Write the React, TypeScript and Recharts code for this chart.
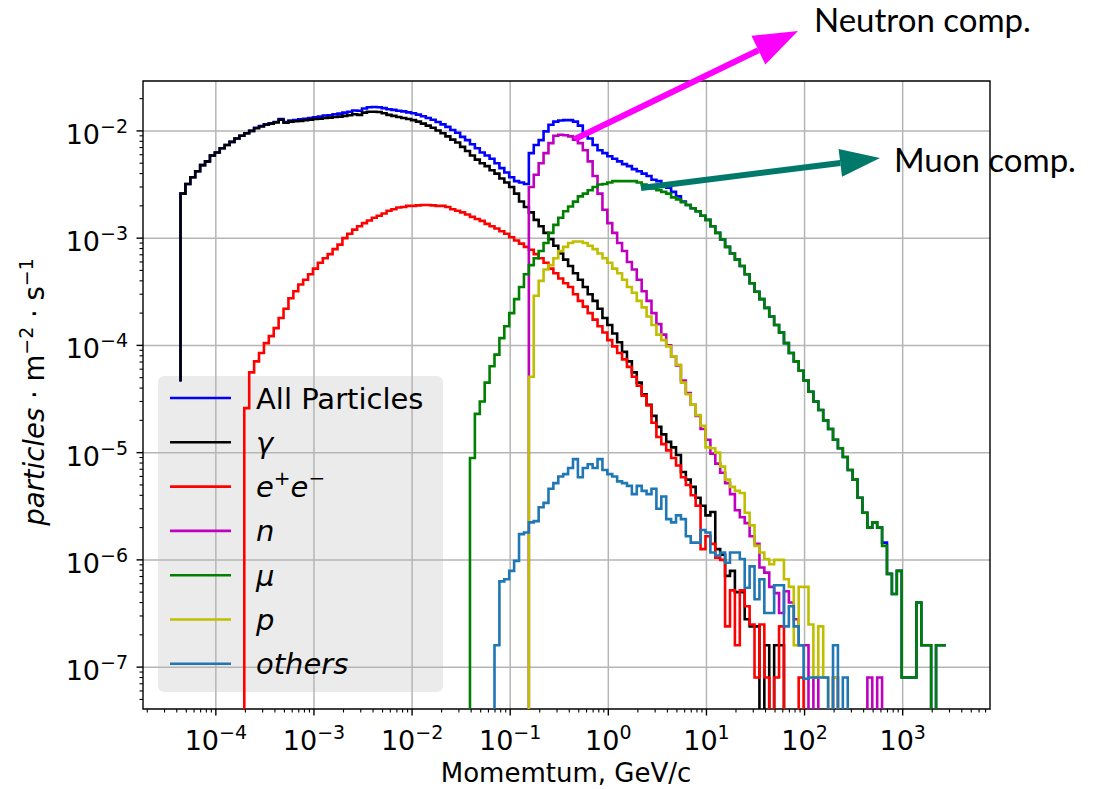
import React from "react";
import { CartesianGrid, Line, LineChart, ReferenceArea, XAxis, YAxis } from "recharts";

const W = 1100;
const H = 789;
const FONT = "DejaVu Sans";

// histogram bin edges are evenly spaced in log10(p)
const EDGE_LOG0 = -4.36;
const EDGE_LOG_STEP = 0.05;
const FLOOR = 1e-12; // empty bins drop out of the log axis

const X_DOMAIN: [number, number] = [1.81e-5, 7.76e3];
const Y_DOMAIN: [number, number] = [4.07e-8, 2.92e-2];
const X_EXPONENTS = [-4, -3, -2, -1, 0, 1, 2, 3];
const Y_EXPONENTS = [-7, -6, -5, -4, -3, -2];
const X_MINOR_EXPONENTS = [-5, -4, -3, -2, -1, 0, 1, 2, 3];
const Y_MINOR_EXPONENTS = [-8, -7, -6, -5, -4, -3, -2];
const MINOR_MANTISSAS = [2, 3, 4, 5, 6, 7, 8, 9];

// each list: value on its first edge, then one value per bin
const ALL_START = 0;
const ALL = [
  4.6e-5,
  2.6e-3, 3.2e-3, 3.7e-3, 4.2e-3, 4.8e-3, 5.2e-3, 5.9e-3, 6.3e-3, 6.9e-3, 7.4e-3,
  7.9e-3, 8.5e-3, 9.0e-3, 9.5e-3, 1.0e-2, 1.07e-2, 1.11e-2, 1.15e-2, 1.18e-2, 1.21e-2,
  1.29e-2, 1.21e-2, 1.25e-2, 1.26e-2, 1.28e-2, 1.3e-2, 1.32e-2, 1.34e-2, 1.36e-2, 1.39e-2,
  1.4e-2, 1.43e-2, 1.45e-2, 1.48e-2, 1.51e-2, 1.55e-2, 1.54e-2, 1.62e-2, 1.66e-2, 1.67e-2,
  1.66e-2, 1.63e-2, 1.59e-2, 1.57e-2, 1.54e-2, 1.52e-2, 1.49e-2, 1.46e-2, 1.42e-2, 1.37e-2,
  1.32e-2, 1.27e-2, 1.21e-2, 1.15e-2, 1.09e-2, 1.02e-2, 9.6e-3, 8.8e-3, 8.2e-3, 7.5e-3,
  6.9e-3, 6.3e-3, 5.9e-3, 5.5e-3, 5.0e-3, 4.5e-3, 4.1e-3, 3.7e-3, 3.4e-3, 3.3e-3,
  3.2e-3, 6.2e-3, 7.4e-3, 8.2e-3, 9.9e-3, 1.14e-2, 1.22e-2, 1.25e-2, 1.26e-2, 1.26e-2,
  1.22e-2, 1.12e-2, 9.5e-3, 8.5e-3, 7.4e-3, 6.6e-3, 6.2e-3, 5.8e-3, 5.5e-3, 5.2e-3,
  4.9e-3, 4.7e-3, 4.4e-3, 4.2e-3, 4.0e-3, 3.8e-3, 3.5e-3, 3.4e-3, 3.2e-3, 2.95e-3,
  2.7e-3, 2.45e-3, 2.2e-3, 2.04e-3, 1.9e-3, 1.78e-3, 1.62e-3, 1.48e-3, 1.29e-3, 1.12e-3,
  9.7e-4, 8.3e-4, 7.2e-4, 6.3e-4, 5.5e-4, 4.6e-4, 3.8e-4, 3.16e-4, 2.7e-4, 2.24e-4,
  1.86e-4, 1.55e-4, 1.32e-4, 1.05e-4, 8.5e-5, 7.1e-5, 5.8e-5, 4.7e-5, 3.7e-5, 3.0e-5,
  2.5e-5, 2.0e-5, 1.66e-5, 1.32e-5, 1.1e-5, 9.1e-6, 6.9e-6, 5.6e-6, 3.8e-6, 2.75e-6,
  2.0e-6, 2.24e-6, 2.0e-6, 1.45e-6, 7.4e-7, 4.8e-7, 7.9e-7, 8e-8, 8e-8, 8e-8,
  4.0e-7, 1.6e-7, 1.6e-7, 0, 1.6e-7, 1.6e-7,
];

const GAMMA_START = 0;
const GAMMA = [
  4.6e-5,
  2.6e-3, 3.2e-3, 3.7e-3, 4.2e-3, 4.8e-3, 5.2e-3, 5.9e-3, 6.3e-3, 6.9e-3, 7.4e-3,
  7.9e-3, 8.5e-3, 9.0e-3, 9.5e-3, 1.0e-2, 1.06e-2, 1.1e-2, 1.14e-2, 1.17e-2, 1.2e-2,
  1.27e-2, 1.19e-2, 1.22e-2, 1.23e-2, 1.24e-2, 1.26e-2, 1.27e-2, 1.29e-2, 1.3e-2, 1.32e-2,
  1.33e-2, 1.35e-2, 1.36e-2, 1.38e-2, 1.4e-2, 1.43e-2, 1.41e-2, 1.48e-2, 1.51e-2, 1.51e-2,
  1.5e-2, 1.46e-2, 1.41e-2, 1.38e-2, 1.35e-2, 1.32e-2, 1.29e-2, 1.26e-2, 1.22e-2, 1.17e-2,
  1.12e-2, 1.07e-2, 1.01e-2, 9.5e-3, 8.9e-3, 8.3e-3, 7.8e-3, 7.1e-3, 6.5e-3, 5.9e-3,
  5.4e-3, 5.0e-3, 4.7e-3, 4.3e-3, 4.0e-3, 3.6e-3, 3.3e-3, 3.0e-3, 2.6e-3, 2.2e-3,
  1.95e-3, 1.74e-3, 1.48e-3, 1.29e-3, 1.12e-3, 9.8e-4, 8.5e-4, 7.2e-4, 6.3e-4, 5.5e-4,
  4.7e-4, 4.1e-4, 3.5e-4, 3.0e-4, 2.6e-4, 2.2e-4, 1.8e-4, 1.55e-4, 1.29e-4, 1.07e-4,
  8.7e-5, 7.1e-5, 5.6e-5, 4.5e-5, 3.5e-5, 2.8e-5, 2.2e-5, 1.74e-5, 1.48e-5, 1.26e-5,
  1.12e-5, 9.5e-6, 6.6e-6, 5.6e-6, 4.8e-6, 3.8e-6, 3.2e-6, 2.6e-6, 2.8e-6, 1.26e-6,
  1.12e-6, 7.1e-7, 7.9e-7, 5.0e-7, 5.0e-7, 2.8e-7, 2.4e-7, 2.4e-7, 0, 1.6e-7,
  0, 1.6e-7, 1.6e-7, 0,
];

const EE_START = 13;
const EE = [
  0,
  2.6e-5, 5.6e-5, 7.1e-5, 8.5e-5, 1.05e-4, 1.22e-4, 1.45e-4,
  1.8e-4, 2.2e-4, 2.75e-4, 3.2e-4, 3.7e-4, 4.1e-4, 4.6e-4, 5.2e-4, 5.9e-4, 6.5e-4,
  7.1e-4, 7.9e-4, 8.7e-4, 1.0e-3, 1.1e-3, 1.2e-3, 1.29e-3, 1.38e-3, 1.46e-3, 1.55e-3,
  1.62e-3, 1.7e-3, 1.8e-3, 1.86e-3, 1.93e-3, 1.95e-3, 2.0e-3, 2.0e-3, 2.02e-3, 2.04e-3,
  2.04e-3, 2.02e-3, 2.0e-3, 2.0e-3, 1.95e-3, 1.86e-3, 1.8e-3, 1.74e-3, 1.66e-3, 1.58e-3,
  1.51e-3, 1.45e-3, 1.36e-3, 1.29e-3, 1.23e-3, 1.16e-3, 1.1e-3, 1.02e-3, 9.5e-4, 8.9e-4,
  8.3e-4, 7.8e-4, 7.1e-4, 6.5e-4, 5.9e-4, 5.2e-4, 4.7e-4, 4.2e-4, 3.8e-4, 3.5e-4,
  3.0e-4, 2.6e-4, 2.3e-4, 2.0e-4, 1.74e-4, 1.51e-4, 1.32e-4, 1.12e-4, 9.8e-5, 8.5e-5,
  7.4e-5, 6.3e-5, 5.1e-5, 4.2e-5, 3.4e-5, 2.75e-5, 1.9e-5, 1.4e-5, 1.2e-5, 1.05e-5,
  8.9e-6, 7.6e-6, 5.9e-6, 5.0e-6, 4.0e-6, 3.2e-6, 1.26e-6, 1.66e-6, 1.41e-6, 1.05e-6,
  1.0e-6, 2.4e-7, 5.2e-7, 1.6e-7, 5.2e-7, 3.7e-7, 2.5e-7, 8e-8, 2.5e-7, 8e-8,
  0, 8e-8, 2.4e-7, 0, 0, 0, 8e-8, 0,
];

const N_START = 71;
const N = [
  0,
  3.0e-3, 3.9e-3, 5.0e-3, 6.2e-3, 7.7e-3, 9.0e-3, 9.2e-3, 9.1e-3, 8.9e-3,
  8.3e-3, 7.7e-3, 6.6e-3, 5.2e-3, 3.8e-3, 2.6e-3, 1.84e-3, 1.38e-3, 1.12e-3, 9.0e-4,
  7.6e-4, 6.0e-4, 5.1e-4, 4.1e-4, 3.2e-4, 2.6e-4, 2.0e-4, 1.58e-4, 1.26e-4, 1.0e-4,
  7.9e-5, 6.5e-5, 4.7e-5, 3.6e-5, 2.8e-5, 2.2e-5, 1.66e-5, 1.32e-5, 9.8e-6, 7.9e-6,
  6.5e-6, 5.2e-6, 4.1e-6, 2.9e-6, 2.5e-6, 2.2e-6, 1.66e-6, 1.41e-6, 8.5e-7, 7.6e-7,
  5.6e-7, 4.9e-7, 3.2e-7, 5.1e-7, 4.0e-7, 2.8e-7, 1.6e-7, 1.6e-7, 0, 8e-8,
  0, 0, 0, 8e-8, 0, 0, 0, 0, 0, 0,
  8e-8, 0, 8e-8, 0,
];

const MU_START = 59;
const MU = [
  0,
  8.9e-6,
  2.3e-5, 3.0e-5, 4.5e-5, 6.4e-5, 8.2e-5, 1.17e-4, 1.51e-4, 2.0e-4, 2.7e-4, 3.5e-4,
  4.6e-4, 5.6e-4, 6.5e-4, 7.6e-4, 9.0e-4, 1.12e-3, 1.33e-3, 1.55e-3, 1.78e-3, 1.97e-3,
  2.19e-3, 2.45e-3, 2.6e-3, 2.8e-3, 3.0e-3, 3.16e-3, 3.2e-3, 3.3e-3, 3.4e-3, 3.4e-3,
  3.4e-3, 3.4e-3, 3.4e-3, 3.3e-3, 3.16e-3, 3.0e-3, 2.9e-3, 2.8e-3, 2.7e-3, 2.6e-3,
  2.4e-3, 2.3e-3, 2.16e-3, 2.04e-3, 1.9e-3, 1.78e-3, 1.62e-3, 1.48e-3, 1.29e-3, 1.12e-3,
  9.7e-4, 8.3e-4, 7.2e-4, 6.3e-4, 5.5e-4, 4.6e-4, 3.8e-4, 3.16e-4, 2.7e-4, 2.24e-4,
  1.86e-4, 1.55e-4, 1.32e-4, 1.05e-4, 8.5e-5, 7.1e-5, 5.8e-5, 4.7e-5, 3.7e-5, 3.0e-5,
  2.5e-5, 2.0e-5, 1.66e-5, 1.32e-5, 1.1e-5, 9.1e-6, 6.9e-6, 5.6e-6, 3.8e-6, 2.75e-6,
  2.0e-6, 2.24e-6, 2.0e-6, 1.35e-6, 7.4e-7, 4.8e-7, 7.9e-7, 8e-8, 8e-8, 8e-8,
  4.0e-7, 1.6e-7, 1.6e-7, 0, 1.6e-7, 1.6e-7,
];

const P_START = 71;
const P = [
  0,
  5.1e-5, 2.9e-4, 4.0e-4, 5.1e-4, 5.6e-4, 6.5e-4, 7.6e-4, 8.3e-4, 9.0e-4,
  9.3e-4, 9.3e-4, 9.0e-4, 8.5e-4, 7.9e-4, 7.2e-4, 6.5e-4, 5.9e-4, 5.2e-4, 4.7e-4,
  4.1e-4, 3.5e-4, 3.1e-4, 2.6e-4, 2.26e-4, 1.86e-4, 1.55e-4, 1.26e-4, 1.12e-4, 9.8e-5,
  7.9e-5, 6.6e-5, 4.5e-5, 3.5e-5, 2.8e-5, 2.24e-5, 1.78e-5, 1.12e-5, 1.1e-5, 1.0e-5,
  7.4e-6, 5.6e-6, 4.8e-6, 4.4e-6, 4.2e-6, 2.75e-6, 2.1e-6, 1.35e-6, 1.17e-6, 1.02e-6,
  9.1e-7, 1.0e-6, 1.0e-6, 6.6e-7, 5.6e-7, 1.6e-7, 5.6e-7, 5.6e-7, 2.5e-7, 8e-8,
  2.4e-7, 8e-8, 0, 8e-8, 0,
];

const OTHERS_START = 64;
const OTHERS = [
  0,
  1.6e-7, 6.3e-7, 6.6e-7, 7.9e-7, 9.8e-7, 1.74e-6,
  1.8e-6, 2.24e-6, 2.3e-6, 3.1e-6, 3.4e-6, 4.6e-6, 5.2e-6, 6.0e-6, 6.3e-6, 7.2e-6,
  8.7e-6, 5.9e-6, 7.2e-6, 7.8e-6, 7.2e-6, 8.7e-6, 6.9e-6, 6.3e-6, 6.0e-6, 5.4e-6,
  5.2e-6, 4.9e-6, 4.1e-6, 4.9e-6, 4.4e-6, 4.1e-6, 4.6e-6, 3.0e-6, 3.9e-6, 2.4e-6,
  2.24e-6, 2.6e-6, 2.4e-6, 1.66e-6, 1.45e-6, 1.45e-6, 1.9e-6, 1.8e-6, 1.17e-6, 1.1e-6,
  1.17e-6, 9.4e-7, 1.17e-6, 1.17e-6, 1.02e-6, 5.5e-7, 8.7e-7, 4.3e-7, 6.6e-7, 3.2e-7,
  3.2e-7, 5.8e-7, 5.8e-7, 2.4e-7, 3.7e-7, 2.4e-7, 1.6e-7, 7.8e-8, 8e-8, 8e-8,
  8e-8, 8e-8, 0, 1.6e-7, 0, 8e-8, 0,
];

const SERIES = [
  { key: "all", start: ALL_START, values: ALL, color: "#0000ff" },
  { key: "gamma", start: GAMMA_START, values: GAMMA, color: "#000000" },
  { key: "ee", start: EE_START, values: EE, color: "#ff0000" },
  { key: "n", start: N_START, values: N, color: "#bf00bf" },
  { key: "mu", start: MU_START, values: MU, color: "#008000" },
  { key: "p", start: P_START, values: P, color: "#bfbf00" },
  { key: "others", start: OTHERS_START, values: OTHERS, color: "#1f77b4" },
];

const LINE_W = 2.6;

function toSteps(start: number, values: number[]) {
  return values.map((v, j) => ({
    x: Math.pow(10, EDGE_LOG0 + EDGE_LOG_STEP * (start + j)),
    y: v > 0 ? v : FLOOR,
  }));
}

function minorTicks(exps: number[], [lo, hi]: [number, number]) {
  return exps
    .flatMap((e) => MINOR_MANTISSAS.map((m) => m * Math.pow(10, e)))
    .filter((v) => v >= lo && v <= hi);
}

const X_MAJOR = X_EXPONENTS.map((e) => Math.pow(10, e));
const Y_MAJOR = Y_EXPONENTS.map((e) => Math.pow(10, e));
const X_TICKS = [...X_MAJOR, ...minorTicks(X_MINOR_EXPONENTS, X_DOMAIN)].sort((a, b) => a - b);
const Y_TICKS = [...Y_MAJOR, ...minorTicks(Y_MINOR_EXPONENTS, Y_DOMAIN)].sort((a, b) => a - b);

const expText = (e: number) => (e < 0 ? `\u2212${-e}` : `${e}`);

function splitTick(v: number) {
  const lg = Math.log10(v);
  const e = Math.round(lg);
  return { e, major: Math.abs(lg - e) < 1e-6 };
}

function XTick(props: any) {
  const { x, y, payload } = props;
  const { e, major } = splitTick(payload.value);
  return (
    <g>
      <line x1={x} x2={x} y1={y} y2={y + (major ? 6.5 : 3.5)} stroke="#000" strokeWidth={major ? 1.4 : 1.1} />
      {major && (
        <text x={x} y={y + 41} textAnchor="middle" fontFamily={FONT} fontSize={27} fill="#000">
          10
          <tspan dy={-11} fontSize={19}>{expText(e)}</tspan>
        </text>
      )}
    </g>
  );
}

function YTick(props: any) {
  const { x, y, payload } = props;
  const { e, major } = splitTick(payload.value);
  return (
    <g>
      <line x1={x} x2={x - (major ? 6.5 : 3.5)} y1={y} y2={y} stroke="#000" strokeWidth={major ? 1.4 : 1.1} />
      {major && (
        <text x={x - 15} y={y + 13} textAnchor="end" fontFamily={FONT} fontSize={27} fill="#000">
          10
          <tspan dy={-11} fontSize={19}>{expText(e)}</tspan>
        </text>
      )}
    </g>
  );
}

function Arrow({ from, to, color, width, headLen, headWidth }: any) {
  const dx = to[0] - from[0];
  const dy = to[1] - from[1];
  const len = Math.hypot(dx, dy);
  const ux = dx / len;
  const uy = dy / len;
  const bx = to[0] - ux * headLen;
  const by = to[1] - uy * headLen;
  const px = -uy * (headWidth / 2);
  const py = ux * (headWidth / 2);
  return (
    <g>
      <line x1={from[0]} y1={from[1]} x2={bx} y2={by} stroke={color} strokeWidth={width} />
      <polygon points={`${to[0]},${to[1]} ${bx + px},${by + py} ${bx - px},${by - py}`} fill={color} />
    </g>
  );
}

const LEGEND_ROW_Y = [398, 442.3, 486.6, 530.9, 575.2, 619.5, 663.8];

function LegendLabel({ k, y }: { k: string; y: number }) {
  const common = { x: 256, y: y + 10.5, fontFamily: FONT, fontSize: 29, fill: "#000" };
  if (k === "all") return <text {...common}>All Particles</text>;
  if (k === "gamma") return <text {...common} fontStyle="italic">γ</text>;
  if (k === "ee")
    return (
      <text {...common} fontStyle="italic">
        e<tspan dy={-12} fontSize={20}>+</tspan>
        <tspan dy={12}>e</tspan>
        <tspan dy={-12} fontSize={20}>{"\u2212"}</tspan>
      </text>
    );
  if (k === "n") return <text {...common} fontStyle="italic">n</text>;
  if (k === "mu") return <text {...common} fontStyle="italic">μ</text>;
  if (k === "p") return <text {...common} fontStyle="italic">p</text>;
  return <text {...common} fontStyle="italic">others</text>;
}

export default function App() {
  return (
    <div style={{ position: "absolute", left: 0, top: 0, width: W, height: H, background: "#fff" }}>
      <div
        style={{
          position: "absolute",
          left: 158,
          top: 376,
          width: 285,
          height: 316,
          background: "#ebebeb",
          borderRadius: 6,
        }}
      />
      <div style={{ position: "absolute", left: 0, top: 0 }}>
        <LineChart width={W} height={H} margin={{ top: 81, right: 110, left: 0, bottom: 0 }}>
          <CartesianGrid
            stroke="#b5b5b5"
            strokeWidth={1.5}
            horizontalValues={Y_MAJOR}
            verticalValues={X_MAJOR}
          />
          <XAxis
            type="number"
            dataKey="x"
            scale="log"
            domain={X_DOMAIN}
            allowDataOverflow
            ticks={X_TICKS}
            interval={0}
            tick={(p: any) => <XTick {...p} />}
            tickLine={false}
            axisLine={false}
            tickSize={0}
            tickMargin={0}
            height={80}
          />
          <YAxis
            type="number"
            scale="log"
            domain={Y_DOMAIN}
            allowDataOverflow
            ticks={Y_TICKS}
            interval={0}
            tick={(p: any) => <YTick {...p} />}
            tickLine={false}
            axisLine={false}
            tickSize={0}
            tickMargin={0}
            width={143}
          />
          {SERIES.map((s) => (
            <Line
              key={s.key}
              data={toSteps(s.start, s.values)}
              dataKey="y"
              type="stepBefore"
              stroke={s.color}
              strokeWidth={LINE_W}
              dot={false}
              activeDot={false}
              isAnimationActive={false}
            />
          ))}
          <ReferenceArea
            x1={X_DOMAIN[0]}
            x2={X_DOMAIN[1]}
            y1={Y_DOMAIN[0]}
            y2={Y_DOMAIN[1]}
            fill="none"
            stroke="#000"
            strokeWidth={1.4}
            ifOverflow="visible"
          />
        </LineChart>
      </div>
      <svg width={W} height={H} style={{ position: "absolute", left: 0, top: 0, pointerEvents: "none" }}>
        {SERIES.map((s, i) => (
          <g key={s.key}>
            <line x1={170} x2={231} y1={LEGEND_ROW_Y[i]} y2={LEGEND_ROW_Y[i]} stroke={s.color} strokeWidth={LINE_W} />
            <LegendLabel k={s.key} y={LEGEND_ROW_Y[i]} />
          </g>
        ))}
        <text x={566} y={782} textAnchor="middle" fontFamily={FONT} fontSize={26} fill="#000">
          Momemtum, GeV/c
        </text>
        <text
          x={44}
          y={392}
          transform="rotate(-90 44 392)"
          textAnchor="middle"
          fontFamily={FONT}
          fontSize={27.5}
          fill="#000"
        >
          <tspan fontStyle="italic">particles</tspan>
          <tspan>{" \u00b7 m"}</tspan>
          <tspan dy={-11} fontSize={19}>{"\u22122"}</tspan>
          <tspan dy={11}>{" \u00b7 s"}</tspan>
          <tspan dy={-11} fontSize={19}>{"\u22121"}</tspan>
        </text>
        <Arrow from={[575, 139]} to={[798, 31]} color="#ff00ff" width={6} headLen={44} headWidth={32} />
        <Arrow from={[641, 188]} to={[880, 158]} color="#00796b" width={6} headLen={40} headWidth={28} />
        <text x={814} y={32} fontFamily="Lato" fontSize={33} fill="#000">
          Neutron comp.
        </text>
        <text x={894} y={172} fontFamily="Lato" fontSize={33} fill="#000">
          Muon comp.
        </text>
      </svg>
    </div>
  );
}
